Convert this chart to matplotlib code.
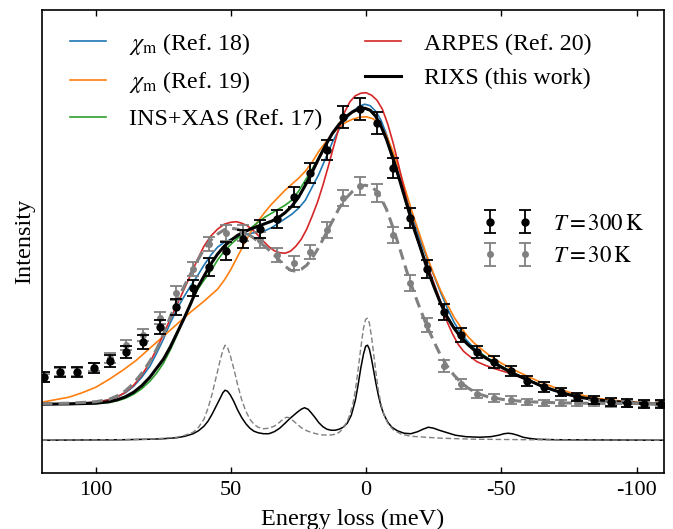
import numpy as np
import matplotlib
matplotlib.use('Agg')
import matplotlib.pyplot as plt

plt.rcParams['font.family'] = ['Liberation Serif', 'DejaVu Serif']
plt.rcParams['mathtext.fontset'] = 'stix'

# energy loss (meV) and intensity (arb. units)
# --- broadened model spectra ---
x_rixs = [120, 110, 100, 95, 92, 89, 86, 83, 80, 77.5, 75, 72.5, 70, 67.5, 65, 62.5, 60, 57.5,
          55, 52.5, 50, 47.5, 45, 42.5, 40, 37.5, 35, 32.5, 30, 27.5, 25, 22.5, 20, 17.5, 15,
          12.5, 10, 7.5, 5, 2.5, 0.5, -1.5, -3.5, -5.5, -7.5, -10, -12.5, -15, -17.5, -20,
          -22.5, -25, -27.5, -30, -32.5, -35, -37.5, -40, -42.5, -45, -47.5, -50, -55, -60,
          -65, -70, -75, -80, -85, -90, -95, -100, -110]
y_rixs = [36, 36.3, 37, 38.5, 40.5, 43.5, 48, 54.5, 63, 72, 81, 93, 107, 121, 136, 152, 164, 176,
          186, 194, 200, 205, 208.5, 211.5, 214, 216.5, 219, 222.5, 227.5, 234, 243, 255, 268, 282,
          295, 307, 316, 323.5, 328.5, 331.5, 332, 330, 324, 314, 301, 281, 259, 236, 213, 193,
          172, 154, 137, 123, 112, 103, 96, 90, 85, 81, 77, 73, 66, 60,
          54, 49.5, 45.5, 42.5, 40.5, 39, 38, 37, 36]

x_ref18 = [120, 110, 100, 95, 92, 89, 86, 83, 80, 77.5, 75, 72.5, 70, 67.5, 65, 62.5, 60, 57.5,
           55, 52.5, 50, 47.5, 45, 42.5, 40, 37.5, 35, 32.5, 30, 27.5, 25, 22.5, 20, 17.5, 15,
           12.5, 10, 7.5, 5, 2.5, 0.5, -1.5, -3.5, -5.5, -7.5, -10, -12.5, -15, -17.5, -20,
           -22.5, -25, -27.5, -30, -32.5, -35, -37.5, -40, -45, -50, -55, -60, -65, -70, -75,
           -80, -85, -90, -95, -100, -110]
y_ref18 = [36, 36.5, 38, 40.5, 43.5, 47.5, 54, 63, 74, 87, 101, 117, 131, 143, 154, 164, 175, 185,
           193, 198, 201, 203.5, 205.5, 207, 208, 209.5, 212.5, 217, 221.5, 226, 232, 240, 253, 266,
           282, 298, 311, 321, 329, 334, 336, 334.5, 329, 320, 306, 285, 262, 241, 220, 200,
           182, 165, 148, 132, 118, 107, 99, 92, 82, 74, 66.5, 60, 54, 49.5, 45.5,
           42.5, 40.5, 39, 38, 37, 36]

x_ref19 = [120, 115, 110, 105, 100, 95, 90, 85, 80, 75, 70, 65, 60, 57.5, 55, 52.5, 50, 47.5, 45,
           42.5, 40, 37.5, 35, 32.5, 30, 27.5, 25, 22.5, 20, 17.5, 15, 12.5, 10, 7.5, 5, 2.5, 0,
           -2.5, -5, -7.5, -10, -12.5, -15, -17.5, -20, -22.5, -25, -27.5, -30, -32.5, -35,
           -37.5, -40, -45, -50, -55, -60, -65, -70, -75, -80, -85, -90, -95, -100, -110]
y_ref19 = [38, 40.5, 43, 47.5, 53, 61, 70, 80, 92, 104, 116, 128, 139, 145, 151, 160, 171, 184, 197,
           209, 219, 228, 236, 243, 250, 256, 262, 269, 278, 289, 298, 306, 313, 318, 321, 323, 323.5,
           321.5, 316, 305, 288, 268, 246, 224, 204, 184, 166, 150, 136, 123, 113,
           104, 97, 86, 77, 70, 63.5, 57.5, 52.5, 48, 45, 42, 40.5, 39, 38, 37]

x_ins = [120, 110, 100, 95, 92, 89, 86, 83, 80, 77.5, 75, 72.5, 70, 67.5, 65, 62.5, 60, 57.5,
         55, 52.5, 50, 47.5, 45, 42.5, 40, 37.5, 35, 32.5, 30, 27.5, 25, 22.5, 20, 17.5, 15,
         12.5, 10, 7.5, 5, 2.5, 0.5, -1.5, -3.5, -5.5, -7.5, -10, -12.5, -15, -17.5, -20,
         -22.5, -25, -27.5, -30, -32.5, -35, -37.5, -40, -45, -50, -55, -60, -65, -70, -75,
         -80, -85, -90, -95, -100, -110]
y_ins = [36, 36.2, 36.8, 37.8, 39.5, 42, 46, 51.5, 59, 67, 77, 90, 105, 121, 137, 150, 160, 169,
         180, 189, 196, 202, 207.5, 212.5, 218, 223, 227, 231, 235, 240, 249, 260, 271, 283, 295,
         306, 315.5, 323, 328, 331, 331.5, 329.5, 323.5, 313.5, 300.5, 280.5, 258.5, 235.5, 213,
         192.5, 172, 154, 137.5, 124, 113, 104, 97, 91, 82, 74, 66.5, 60.5, 54.5, 50, 46,
         43, 41, 39, 38, 37, 36]

x_arpes = [120, 110, 100, 95, 92, 89, 86, 83, 80, 77.5, 75, 72.5, 70, 67.5, 65, 62.5, 60, 57.5,
           55, 52.5, 50, 48, 46, 44, 42, 40, 38, 36, 34, 32, 30, 28, 26, 24, 22, 20, 18, 16, 14,
           12, 10, 8, 6, 4, 2, 0, -2, -4, -6, -8, -10, -12, -14, -16, -18, -20, -22, -24, -26,
           -28, -30, -32, -34, -36, -38, -41, -44, -47, -50, -53, -56, -60, -65, -70, -75, -80,
           -85, -90, -95, -100, -110]
y_arpes = [36, 36.5, 38, 40.5, 43.5, 48, 55, 65, 78, 91, 106, 121, 135, 150, 165, 180, 194, 204,
           211, 216, 218, 218.5, 217, 214.5, 210.5, 205, 199, 193.5, 189.5, 187.5, 187, 189, 194,
           201, 211, 224, 238, 255, 274, 294, 313, 328, 338.5, 344.5, 347, 347.5, 345, 340, 331,
           316, 297, 275, 252, 228, 211, 194, 179, 165, 150, 135, 118, 106, 96, 89, 84.5, 78.5,
           75, 72, 69.5, 67, 64, 60, 54.5, 49.5, 45.5, 42.5, 40.5, 39, 38, 37, 36]

x_fit30 = [120, 110, 100, 95, 92, 89, 86, 83, 80, 77.5, 75, 72.5, 70, 67.5, 65, 62.5, 60, 57.5,
           55, 52.5, 50, 47.5, 45, 42.5, 40, 37.5, 35, 32.5, 30, 28, 26, 24, 22, 20, 17.5, 15,
           12.5, 10, 7.5, 5, 2.5, 0.5, -1.5, -3.5, -5.5, -7.5, -10, -12.5, -15, -17.5, -20,
           -22.5, -25, -27.5, -30, -32.5, -35, -37.5, -40, -42.5, -45, -50, -55, -60, -70, -80,
           -110]
y_fit30 = [36.5, 37, 38.5, 41, 44.5, 49.5, 57, 67, 79, 91, 106, 123, 139, 153, 166, 179, 191, 200,
           206, 210.5, 212, 211, 208, 204, 199, 194, 188, 181, 174, 170, 169, 171, 175, 182, 193,
           206, 219, 232, 242, 249, 254, 255, 254, 250, 242, 231, 212, 191, 169, 149, 131,
           114, 99, 85, 74, 65, 58, 52.5, 48.5, 45.5, 43.5, 41, 39.5, 38.5, 37.5, 37,
           36.5]

# --- unbroadened spectra (lower curves) ---
x_bare300 = [120, 90, 80, 75, 70, 67, 64, 62, 60, 58.5, 57, 55.5, 54, 53, 52.2, 51.3, 50.3, 49,
             47.5, 46, 44.5, 43, 41.5, 40, 38, 36, 34, 32, 30, 28.5, 27, 25.5, 24, 22.8, 21.5,
             20.5, 19, 17.5, 16, 14.5, 13, 11.5, 10, 8.5, 7, 5.5, 4, 3, 2, 1, 0.2, -0.5, -1.2,
             -2, -2.8, -3.6, -4.5, -5.5, -6.5, -8, -9.5, -11.5, -14, -16.5, -19, -21, -23, -25,
             -27, -30, -33, -37, -42, -46, -49, -51, -52.5, -54, -56, -58, -60, -63, -70, -110]
y_bare300 = [0, 0.5, 1, 1.5, 2.5, 4, 6.5, 9.5, 14, 19, 26, 34, 42, 47.5, 50, 49, 45.5, 39,
             30, 22.5, 16.5, 12, 9, 7.5, 6.5, 6.5, 8.5, 12, 17, 21, 24.5, 28, 31, 32.5, 31,
             28, 23, 17.5, 13.5, 11, 10, 10, 11, 13, 17, 25, 40, 55, 72, 86, 94, 95, 91,
             81, 69, 57, 45, 34, 26, 18, 13, 9.5, 7, 6.5, 8.5, 11, 13, 12,
             10, 7.5, 5, 3.5, 3, 3.5, 5, 6.5, 7, 6.5, 5, 3, 2, 1, 0.5, 0]

x_bare30 = [120, 90, 80, 75, 70, 67, 64, 62, 60, 58.5, 57, 55.5, 54, 53, 52.2, 51.3, 50.3, 49,
            47.5, 46, 44.5, 43, 41.5, 40, 38, 36, 34, 32, 30.5, 29.5, 28.5, 27, 25.5, 24, 22, 20,
            17, 14, 11, 9.5, 8, 6.5, 5, 4, 3, 2, 1, 0.2, -0.5, -1.2, -2, -2.8, -3.6, -4.5, -5.5,
            -6.5, -8, -10, -13, -16.5, -22, -28, -40, -60, -110]
y_bare30 = [0, 0.5, 1, 2, 3, 5, 8, 13, 21, 32, 46, 63, 80, 90, 95, 93, 85, 72,
            55, 40, 29, 21, 16, 13, 11.5, 12, 14, 18, 21.5, 23, 22.5, 19.5, 16, 12.5, 9.5, 7.5,
            5.5, 5, 6, 9, 14, 22, 35, 50, 70, 92, 112, 121, 122, 117, 103, 86, 68, 50, 36,
            26, 17, 10.5, 6, 4, 3, 2, 1, 0.5, 0]

# --- measured spectra ---
x_pts = [119.3, 113.1, 106.9, 100.8, 94.9, 88.7, 82.5, 76.4, 70.2, 64.0, 58.0, 51.7, 45.5,
         39.3, 33.1, 26.8, 20.6, 14.5, 8.5, 2.4, -3.9, -10.1, -16.3, -22.5, -28.7, -34.9,
         -41.1, -47.2, -53.4, -59.6, -65.7, -71.9, -78.1, -84.3, -90.4, -96.6, -102.7,
         -108.9]
y_300 = [63, 68, 68, 72, 79, 88, 98, 113, 133, 152, 173, 189, 201, 211, 221, 243, 267,
         290, 323, 331, 317, 272, 222, 171, 128, 105, 88, 78, 69, 59, 53, 48, 43, 40,
         38, 37, 36, 36]
e_300 = [5, 5, 5, 5, 6, 6, 7, 7, 8, 8, 9, 9, 9, 9, 9, 10, 10, 10, 11, 11, 11, 10, 10, 9,
         8, 7, 6, 6, 5, 5, 5, 4, 4, 4, 4, 4, 4, 4]
y_30 = [62, 68, 68, 73, 82, 95, 105, 122, 147, 171, 196, 207, 207, 200, 185, 177, 188,
        210, 242, 254, 247, 205, 157, 115, 74, 56, 46, 42, 40, 38, 37, 37, 37, 37, 36,
        36, 36, 36]
e_30 = [4, 4, 4, 4, 5, 5, 6, 6, 7, 7, 7, 8, 8, 8, 7, 7, 7, 8, 8, 9, 9, 8, 8, 7, 6, 5,
        4, 4, 4, 3, 3, 3, 3, 3, 3, 3, 3, 3]

fig, ax = plt.subplots(figsize=(6.73, 5.29), dpi=100)
fig.subplots_adjust(left=0.062, right=0.986, top=0.982, bottom=0.106)

l18, = ax.plot(x_ref18, y_ref18, color='#1f77b4', lw=1.2, label=r'$\chi_\mathrm{m}$ (Ref. 18)')
l19, = ax.plot(x_ref19, y_ref19, color='#ff7f0e', lw=1.2, label=r'$\chi_\mathrm{m}$ (Ref. 19)')
l17, = ax.plot(x_ins, y_ins, color='#2ca02c', lw=1.2, label='INS+XAS (Ref. 17)')
l20, = ax.plot(x_arpes, y_arpes, color='#d62728', lw=1.2, label='ARPES (Ref. 20)')
lrx, = ax.plot(x_rixs, y_rixs, color='k', lw=2.2, label='RIXS (this work)')
ax.plot(x_fit30, y_fit30, color='#808080', lw=2.2, ls=(0, (3.5, 2)))

ax.plot(x_bare300, y_bare300, color='k', lw=1.1)
ax.plot(x_bare30, y_bare30, color='#808080', lw=1.0, ls=(0, (4, 2)))

e30 = ax.errorbar(x_pts, y_30, yerr=e_30, fmt='o', color='#808080', ms=4, capsize=4,
                  elinewidth=1.3, capthick=1.3, zorder=4)
e300 = ax.errorbar(x_pts, y_300, yerr=e_300, fmt='o', color='k', ms=5, capsize=4,
                   elinewidth=1.3, capthick=1.3, zorder=5)

leg1 = ax.legend(handles=[l18, l19, l17, l20, lrx], ncol=2, loc='upper left',
                 bbox_to_anchor=(0.0296, 0.975), borderaxespad=0, frameon=False,
                 fontsize=17.3, handlelength=1.5, columnspacing=1.8, handletextpad=0.96,
                 labelspacing=0.53)
ax.add_artist(leg1)
ax.legend([e300, e30], [r'$T = 300\,\mathrm{K}$', r'$T = 30\,\mathrm{K}$'], numpoints=2,
          loc='upper left', bbox_to_anchor=(0.6955, 0.579), borderaxespad=0, frameon=False,
          fontsize=16.5, handlelength=2.1, handletextpad=0.93, labelspacing=0.5)

ax.set_xlim(120, -110)
ax.set_ylim(-32.7, 430.7)
ax.set_xticks([100, 50, 0, -50, -100])
ax.set_xticklabels(['100', '50', '0', '-50', '-100'])
ax.set_yticks([])
ax.tick_params(axis='x', direction='in', top=True, length=4.5, width=1, labelsize=16, pad=6)
for s in ax.spines.values():
    s.set_linewidth(1.2)
ax.set_xlabel('Energy loss (meV)', fontsize=17.5, labelpad=6)
ax.set_ylabel('Intensity', fontsize=17.5, labelpad=5)

fig.savefig('out.png', dpi=100)
